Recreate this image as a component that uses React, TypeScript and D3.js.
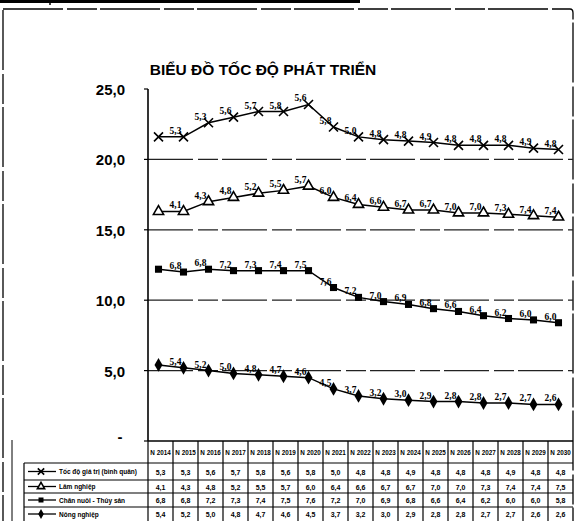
import React from "react";
import * as d3 from "d3";

const years = ["N 2014","N 2015","N 2016","N 2017","N 2018","N 2019","N 2020","N 2021","N 2022","N 2023","N 2024","N 2025","N 2026","N 2027","N 2028","N 2029","N 2030"];
const seriesNames = ["Tốc độ giá trị (bình quân)", "Lâm nghiệp", "Chăn nuôi - Thủy sản", "Nông nghiệp"];
const tocDo = [5.3, 5.3, 5.6, 5.7, 5.8, 5.6, 5.8, 5.0, 4.8, 4.8, 4.9, 4.8, 4.8, 4.8, 4.9, 4.8, 4.8];
const lamNghiep = [4.1, 4.3, 4.8, 5.2, 5.5, 5.7, 6.0, 6.4, 6.6, 6.7, 6.7, 7.0, 7.0, 7.3, 7.4, 7.4, 7.5];
const chanNuoi = [6.8, 6.8, 7.2, 7.3, 7.4, 7.5, 7.6, 7.2, 7.0, 6.9, 6.8, 6.6, 6.4, 6.2, 6.0, 6.0, 5.8];
const nongNghiep = [5.4, 5.2, 5.0, 4.8, 4.7, 4.6, 4.5, 3.7, 3.2, 3.0, 2.9, 2.8, 2.8, 2.7, 2.7, 2.6, 2.6];
const yTicks = [5, 10, 15, 20, 25];
const title = "BIỂU ĐỒ TỐC ĐỘ PHÁT TRIỂN";

const fmt = (v: number) => v.toFixed(1).replace(".", ",");

export default function App() {
  const W = 577, H = 521;
  const left = 148, colW = 25, right = left + colW * years.length;
  const x = d3.scaleBand<string>().domain(years).range([left, right]);
  const cx = (i: number) => (x(years[i]) as number) + x.bandwidth() / 2 - 2;
  const y = d3.scaleLinear().domain([0, 25]).range([441, 89]);

  const stackOrder = [nongNghiep, chanNuoi, lamNghiep, tocDo];
  const cum: number[][] = [];
  stackOrder.forEach((arr, k) => {
    cum.push(arr.map((v, i) => v + (k > 0 ? cum[k - 1][i] : 0)));
  });
  const markerFor = (k: number, px: number, py: number, key: string, s = 1) => {
    if (k === 0) return <path key={key} d={d3.symbol(d3.symbolDiamond, 55 * s)()!} transform={`translate(${px},${py})`} fill="#000" />;
    if (k === 1) return <path key={key} d={d3.symbol(d3.symbolSquare, 50 * s)()!} transform={`translate(${px},${py})`} fill="#000" />;
    if (k === 2) return <path key={key} d={d3.symbol(d3.symbolTriangle, 45 * s)()!} transform={`translate(${px},${py})`} fill="#fff" stroke="#000" strokeWidth={1.6} />;
    const r = 4.5 * Math.sqrt(s);
    return <path key={key} d={`M${-r},${-r}L${r},${r}M${-r},${r}L${r},${-r}`} transform={`translate(${px},${py})`} stroke="#000" strokeWidth={1.6} fill="none" />;
  };
  const line = d3.line<number>().x((_, i) => cx(i)).y((d) => y(d));

  const tableTop = 441, headerBottom = 463;
  const rowH = [17, 13, 14, 14];
  const rowTops: number[] = [];
  let acc = headerBottom;
  rowH.forEach((h) => { rowTops.push(acc); acc += h; });
  const tableRows = [tocDo, lamNghiep, chanNuoi, nongNghiep];
  const rowMarker = [3, 2, 1, 0];
  const colCenter = (i: number) => (x(years[i]) as number) + x.bandwidth() / 2;

  return (
    <svg width={W} height={H} style={{ position: "absolute", left: 0, top: 0, background: "#fff" }} fontFamily="Liberation Sans, Arial, sans-serif">
      <rect x={0} y={0} width={W} height={H} fill="#fff" />
      <line x1={0} y1={1.5} x2={360} y2={1.5} stroke="#000" strokeWidth={3} />
      <line x1={50} y1={0} x2={50} y2={5} stroke="#000" strokeWidth={1.5} />
      <path d={`M3,10 L3,${H} M3,9 L570,9 Q573,9 573,13 L573,${H}`} stroke="#000" strokeWidth={1.3} fill="none" strokeDasharray="60 4 30 3" />
      <line x1={12} y1={440} x2={12} y2={H} stroke="#000" strokeWidth={1} />
      <text x={263} y={75} textAnchor="middle" fontSize={15.5} fontWeight="bold">{title}</text>
      {yTicks.filter((t) => t < 25).map((t) => (
        <line key={t} x1={left} x2={573} y1={y(t)} y2={y(t)} stroke="#222" strokeWidth={1.2} strokeDasharray="45 5 20 4" />
      ))}
      <line x1={left} x2={left} y1={y(25)} y2={y(0)} stroke="#000" strokeWidth={1.6} />
      {yTicks.concat([0]).map((t) => (
        <line key={"tk" + t} x1={left - 4} x2={left} y1={y(t)} y2={y(t)} stroke="#000" strokeWidth={1.2} />
      ))}
      {yTicks.map((t) => (
        <text key={"yl" + t} x={125} y={y(t) + 6} textAnchor="end" fontSize={15} fontWeight="bold">{fmt(t)}</text>
      ))}
      <text x={120} y={y(0) + 1} textAnchor="middle" fontSize={15} fontWeight="bold">-</text>
      {cum.map((c, k) => (
        <g key={"s" + k}>
          <path d={line(c)!} fill="none" stroke="#000" strokeWidth={1.5} />
          {c.map((v, i) => markerFor(k, cx(i), y(v), `m${k}-${i}`))}
          {c.map((v, i) => i === 0 ? null : (
            <text key={`l${k}-${i}`} x={cx(i) - 8} y={y(v) - 3} textAnchor="middle" fontSize={9.5} fontFamily="Liberation Serif, serif" fontWeight="bold">{fmt(stackOrder[k][i - 1])}</text>
          ))}
        </g>
      ))}
      <line x1={left} x2={right} y1={tableTop} y2={tableTop} stroke="#000" strokeWidth={1.5} />
      <line x1={24} x2={right} y1={headerBottom} y2={headerBottom} stroke="#000" strokeWidth={1.2} />
      {rowTops.slice(1).map((t, r) => (
        <line key={"hr" + r} x1={24} x2={right} y1={t} y2={t} stroke="#000" strokeWidth={1.2} />
      ))}
      {years.map((yr, i) => (
        <line key={"vl" + i} x1={x(yr)} x2={x(yr)} y1={tableTop} y2={H} stroke="#000" strokeWidth={1.2} />
      ))}
      <line x1={24} x2={24} y1={headerBottom} y2={H} stroke="#000" strokeWidth={1.2} />
      {years.map((yr, i) => (
        <text key={"yr" + i} x={colCenter(i)} y={455} textAnchor="middle" fontSize={6.3} fontWeight="bold">{yr}</text>
      ))}
      {tableRows.map((row, r) => (
        <g key={"row" + r}>
          {row.map((v, i) => (
            <text key={i} x={colCenter(i)} y={rowTops[r] + rowH[r] / 2 + 3} textAnchor="middle" fontSize={7} fontWeight="bold">{fmt(v)}</text>
          ))}
          <line x1={28} x2={56} y1={rowTops[r] + rowH[r] / 2} y2={rowTops[r] + rowH[r] / 2} stroke="#000" strokeWidth={1.3} />
          {markerFor(rowMarker[r], 41, rowTops[r] + rowH[r] / 2, "lm" + r, 0.5)}
          <text x={59} y={rowTops[r] + rowH[r] / 2 + 2.5} fontSize={6.5} fontWeight="bold">{seriesNames[r]}</text>
        </g>
      ))}
    </svg>
  );
}
